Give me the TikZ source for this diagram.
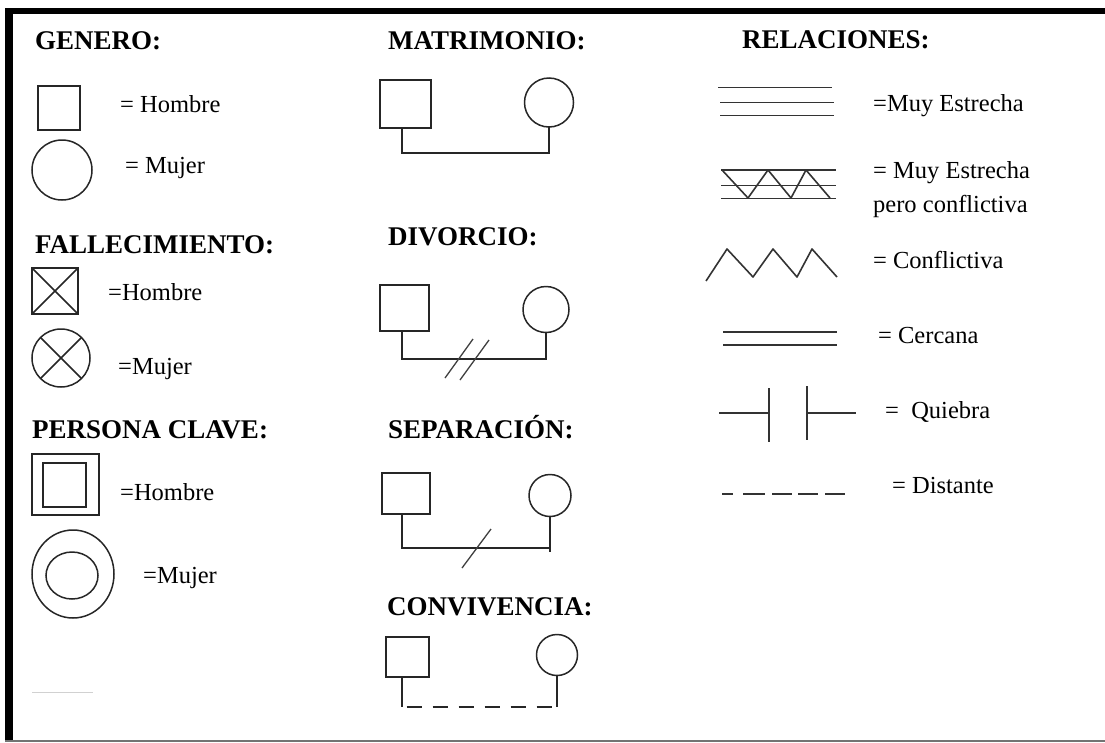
\documentclass[tikz,border=0pt]{standalone}
\usepackage{fontspec}
\setmainfont{Liberation Serif}
\usetikzlibrary{shapes.geometric}
\newcommand\hdfont{\fontsize{27}{32}\selectfont\bfseries}
\newcommand\lbfont{\fontsize{24.5}{29}\selectfont}
\tikzset{
  head/.style={font=\hdfont, anchor=base west, inner sep=0pt},
  lab/.style={font=\lbfont, anchor=base west, inner sep=0pt},
  sym/.style={draw=black!85, line width=1.5pt, inner sep=0pt, outer sep=0pt},
  sq/.style={sym, rectangle},
  ci/.style={sym, circle},
  el/.style={sym, ellipse},
  conn/.style={draw=black!85, line width=1.6pt},
  rel/.style={draw=black!80, line width=1.6pt},
  slash/.style={draw=black!75, line width=1.3pt},
}
\begin{document}
\begin{tikzpicture}[x=1pt,y=-1pt]
\fill[white] (0,0) rectangle (1105,742);
\useasboundingbox (0,0) rectangle (1105,742);
% frame
\fill[black] (5,8) rectangle (1105,14);
\fill[black] (5,8) rectangle (13,742);
\draw[black!55, line width=1.5pt] (5,741) -- (1105,741);

% headings
\node[head] (hgen) at (35,49) {GENERO:};
\node[head] (hmat) at (388,49) {MATRIMONIO:};
\node[head] (hrel) at (742,48) {RELACIONES:};
\node[head] (hfal) at (35,253) {FALLECIMIENTO:};
\node[head] (hdiv) at (388,245) {DIVORCIO:};
\node[head] (hper) at (32,438) {PERSONA CLAVE:};
\node[head] (hsep) at (388,438) {SEPARACIÓN:};
\node[head] (hcon) at (387,615) {CONVIVENCIA:};

% GENERO
\node[sq, minimum width=42pt, minimum height=44pt] (gm) at (59,108) {};
\node[lab] (tgm) at (120,112) {= Hombre};
\node[ci, minimum size=60pt] (gf) at (62,170) {};
\node[lab] (tgf) at (125,173) {= Mujer};

% FALLECIMIENTO
\node[sq, minimum width=46pt, minimum height=46pt] (dm) at (55,291) {};
\draw[sym] (dm.north west) -- (dm.south east) (dm.north east) -- (dm.south west);
\node[lab] (tdm) at (108,300) {=Hombre};
\node[ci, minimum size=58pt] (df) at (61,358) {};
\draw[sym] (df.north west) -- (df.south east) (df.north east) -- (df.south west);
\node[lab] (tdf) at (118,374) {=Mujer};

% PERSONA CLAVE
\node[sq, minimum width=67pt, minimum height=61pt] (km) at (65.5,484.5) {};
\node[sq, minimum width=43pt, minimum height=44pt] (kmi) at (64.5,485) {};
\node[lab] (tkm) at (120,500) {=Hombre};
\node[el, minimum width=82pt, minimum height=88pt] (kf) at (73,574) {};
\node[el, minimum width=52pt, minimum height=47pt] (kfi) at (72,575.5) {};
\node[lab] (tkf) at (143,583) {=Mujer};
\draw[black!18, line width=0.6pt] (32,692) -- (93,692);

% MATRIMONIO
\node[sq, minimum width=51pt, minimum height=48pt] (ma) at (405.5,104) {};
\node[ci, minimum size=49pt] (mb) at (549,102.5) {};
\coordinate (mbase) at (549,153);
\draw[conn] ([xshift=-3.5pt]ma.south) |- (mbase) -- (mb.south);

% DIVORCIO
\node[sq, minimum width=49pt, minimum height=46pt] (da) at (404.5,308) {};
\node[ci, minimum size=46pt] (db) at (546,309.5) {};
\coordinate (dbase) at (546,359);
\draw[conn] ([xshift=-2.5pt]da.south) |- (dbase) -- (db.south);
\draw[slash] (445,378) -- (473,339);
\draw[slash] (460,380) -- (489,340);

% SEPARACION
\node[sq, minimum width=48pt, minimum height=41pt] (sa) at (406,493.5) {};
\node[ci, minimum size=42pt] (sb) at (550,495.5) {};
\coordinate (sbase) at (550,548);
\coordinate (send) at (550,552);
\draw[conn] ([xshift=-4pt]sa.south) |- (sbase);
\draw[conn] (sb.south) -- (send);
\draw[slash] (462,568) -- (491,529);

% CONVIVENCIA
\node[sq, minimum width=43pt, minimum height=40pt] (ca) at (407.5,657) {};
\node[ci, minimum size=41pt] (cb) at (557,655) {};
\coordinate (cleft) at (402,707);
\coordinate (cright) at (557,707);
\draw[conn] ([xshift=-5.5pt]ca.south) -- (cleft);
\draw[conn] (cb.south) -- (cright);
\draw[conn, dash pattern=on 15.5pt off 10.5pt, dash phase=21.3pt] (cleft) -- (cright);

% RELACIONES
% muy estrecha
\draw[rel] (718,87.5) -- (832,87.5);
\draw[rel] (720,102.5) -- (834,102.5);
\draw[rel] (720,115.5) -- (834,115.5);
\node[lab] (tr1) at (873,111) {=Muy Estrecha};
% muy estrecha pero conflictiva
\draw[rel] (721,170) -- (836,170);
\draw[rel] (721,185.5) -- (836,185.5);
\draw[rel] (721,198.5) -- (836,198.5);
\draw[rel, line join=round] (722,170) -- (748,198) -- (768,170) -- (791,198) -- (806,170) -- (830,198);
\node[lab] (tr2) at (873,178) {= Muy Estrecha};
\node[lab] (tr2b) at (873,212) {pero conflictiva};
% conflictiva
\draw[rel, line join=round] (706,281) -- (727,249) -- (753,277) -- (773,249) -- (797,277) -- (812,249) -- (837,277);
\node[lab] (tr3) at (873,268) {= Conflictiva};
% cercana
\draw[rel] (723,332) -- (837,332);
\draw[rel] (723,345) -- (837,345);
\node[lab] (tr4) at (878,343) {= Cercana};
% quiebra
\draw[rel] (719,413) -- (769,413);
\draw[rel] (769,388) -- (769,442);
\draw[rel] (807,386) -- (807,440);
\draw[rel] (807,413) -- (856,413);
\node[lab] (tr5) at (885,418) {=\ \ Quiebra};
% distante
\draw[rel] (722,494) -- (733,494) (743,494) -- (765,494) (772,494) -- (792,494) (798,494) -- (818,494) (825,494) -- (845,494);
\node[lab] (tr6) at (892,493) {= Distante};
\end{tikzpicture}
\end{document}
